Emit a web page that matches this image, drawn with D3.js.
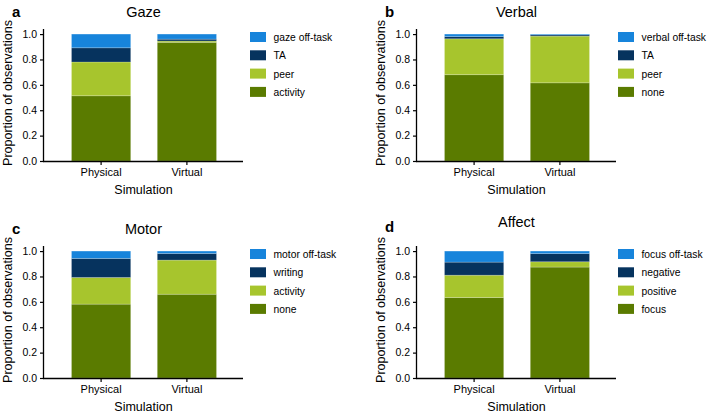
<!DOCTYPE html>
<html>
<head>
<meta charset="utf-8">
<script src="https://cdn.jsdelivr.net/npm/d3@7"></script>
<style>
  html, body { margin: 0; padding: 0; background: #fff; }
  svg { display: block; font-family: "Liberation Sans", Arial, Helvetica, sans-serif; }
</style>
</head>
<body>
<svg id="chart" width="710" height="413"></svg>
<script>
// ---- Data ----
const simulations = ["Physical", "Virtual"];
const layerColors = ["#5a7b00", "#a7c52d", "#06335e", "#1784db"]; // bottom -> top

const gazeKeys = ["activity", "peer", "TA", "gaze off-task"];
const gazePhysical = [0.514, 0.266, 0.112, 0.108];
const gazeVirtual  = [0.935, 0.010, 0.015, 0.040];

const verbalKeys = ["none", "peer", "TA", "verbal off-task"];
const verbalPhysical = [0.680, 0.283, 0.017, 0.020];
const verbalVirtual  = [0.616, 0.368, 0.010, 0.006];

const motorKeys = ["none", "activity", "writing", "motor off-task"];
const motorPhysical = [0.582, 0.210, 0.150, 0.058];
const motorVirtual  = [0.660, 0.269, 0.052, 0.019];

const affectKeys = ["focus", "positive", "negative", "focus off-task"];
const affectPhysical = [0.634, 0.176, 0.103, 0.087];
const affectVirtual  = [0.874, 0.042, 0.064, 0.020];

const yTicks = [0, 0.2, 0.4, 0.6, 0.8, 1.0];

const panels = [
  { letter: "a", title: "Gaze",   keys: gazeKeys,   values: [gazePhysical, gazeVirtual],     ox: 44,  oy: 161, titleDy: 0, letterDy: 0, legDx: 206 },
  { letter: "b", title: "Verbal", keys: verbalKeys, values: [verbalPhysical, verbalVirtual], ox: 417, oy: 161, titleDy: 0, letterDy: 0, legDx: 201 },
  { letter: "c", title: "Motor",  keys: motorKeys,  values: [motorPhysical, motorVirtual],   ox: 44,  oy: 378, titleDy: 0, letterDy: 0, legDx: 206 },
  { letter: "d", title: "Affect", keys: affectKeys, values: [affectPhysical, affectVirtual], ox: 417, oy: 378, titleDy: -7, letterDy: -2, legDx: 201 }
];

const svg = d3.select("#chart");

panels.forEach(p => {
  const g = svg.append("g");
  const axisW = 199;
  const x = d3.scaleBand().domain(simulations)
    .range([p.ox + 27.5, p.ox + 172.5]).paddingInner(0.31).paddingOuter(0);
  const y = d3.scaleLinear().domain([0, 1.04]).range([p.oy, p.oy - 132]);

  const rows = simulations.map((s, i) => {
    const r = { sim: s };
    p.keys.forEach((k, j) => r[k] = p.values[i][j]);
    return r;
  });
  const series = d3.stack().keys(p.keys)(rows);

  series.forEach((layer, li) => {
    g.append("g").selectAll("rect").data(layer).join("rect")
      .attr("x", d => x(d.data.sim))
      .attr("width", x.bandwidth())
      .attr("y", d => y(d[1]))
      .attr("height", d => y(d[0]) - y(d[1]))
      .attr("fill", layerColors[li])
      .attr("stroke", "#ffffff")
      .attr("stroke-opacity", 0.25)
      .attr("stroke-width", 0.8);
  });

  // y axis
  const yAxis = d3.axisLeft(y).tickValues(yTicks).tickFormat(d3.format(".1f"))
    .tickSize(4).tickPadding(3);
  const ya = g.append("g").attr("transform", `translate(${p.ox},0)`).call(yAxis);
  ya.select(".domain").attr("d", `M-0.5,${y(1.04)}V${p.oy}`).attr("stroke", "#000").attr("stroke-width", 1.3);
  ya.selectAll(".tick line").attr("stroke", "#000").attr("stroke-width", 1.2);
  ya.selectAll(".tick text").attr("font-size", 10.5).attr("fill", "#000")
    .attr("font-family", "Liberation Sans, Arial, sans-serif");

  // x axis
  const xAxis = d3.axisBottom(x).tickSize(4).tickPadding(3);
  const xa = g.append("g").attr("transform", `translate(0,${p.oy})`).call(xAxis);
  xa.select(".domain").attr("d", `M${p.ox - 1},0.5H${p.ox + axisW}`).attr("stroke", "#000").attr("stroke-width", 1.3);
  xa.selectAll(".tick line").attr("stroke", "#000").attr("stroke-width", 1.2);
  xa.selectAll(".tick text").attr("font-size", 11).attr("fill", "#000")
    .attr("font-family", "Liberation Sans, Arial, sans-serif");

  // axis titles
  g.append("text").attr("x", p.ox + axisW / 2).attr("y", p.oy + 33)
    .attr("text-anchor", "middle").attr("font-size", 12.5).text("Simulation");
  g.append("text")
    .attr("transform", `translate(${p.ox - 32},${p.oy - 68}) rotate(-90)`)
    .attr("text-anchor", "middle").attr("font-size", 12.5).text("Proportion of observations");

  // panel title & letter
  g.append("text").attr("x", p.ox + axisW / 2).attr("y", p.oy - 144 + p.titleDy)
    .attr("text-anchor", "middle").attr("font-size", 14.5).text(p.title);
  g.append("text").attr("x", p.ox - 32).attr("y", p.oy - 144 + p.letterDy)
    .attr("font-size", 15).attr("font-weight", "bold").text(p.letter);

  // legend (top to bottom: reverse of stack)
  const lx = p.ox + p.legDx;
  const ly = p.oy - 129;
  const items = p.keys.map((k, i) => ({ k, c: layerColors[i] })).reverse();
  const lg = g.append("g").attr("transform", `translate(${lx},${ly})`);
  items.forEach((it, i) => {
    lg.append("rect").attr("x", 0).attr("y", i * 18.3).attr("width", 16).attr("height", 10).attr("fill", it.c);
    lg.append("text").attr("x", 23.5).attr("y", i * 18.3 + 9).attr("font-size", 10.3).text(it.k);
  });
});
</script>
</body>
</html>
